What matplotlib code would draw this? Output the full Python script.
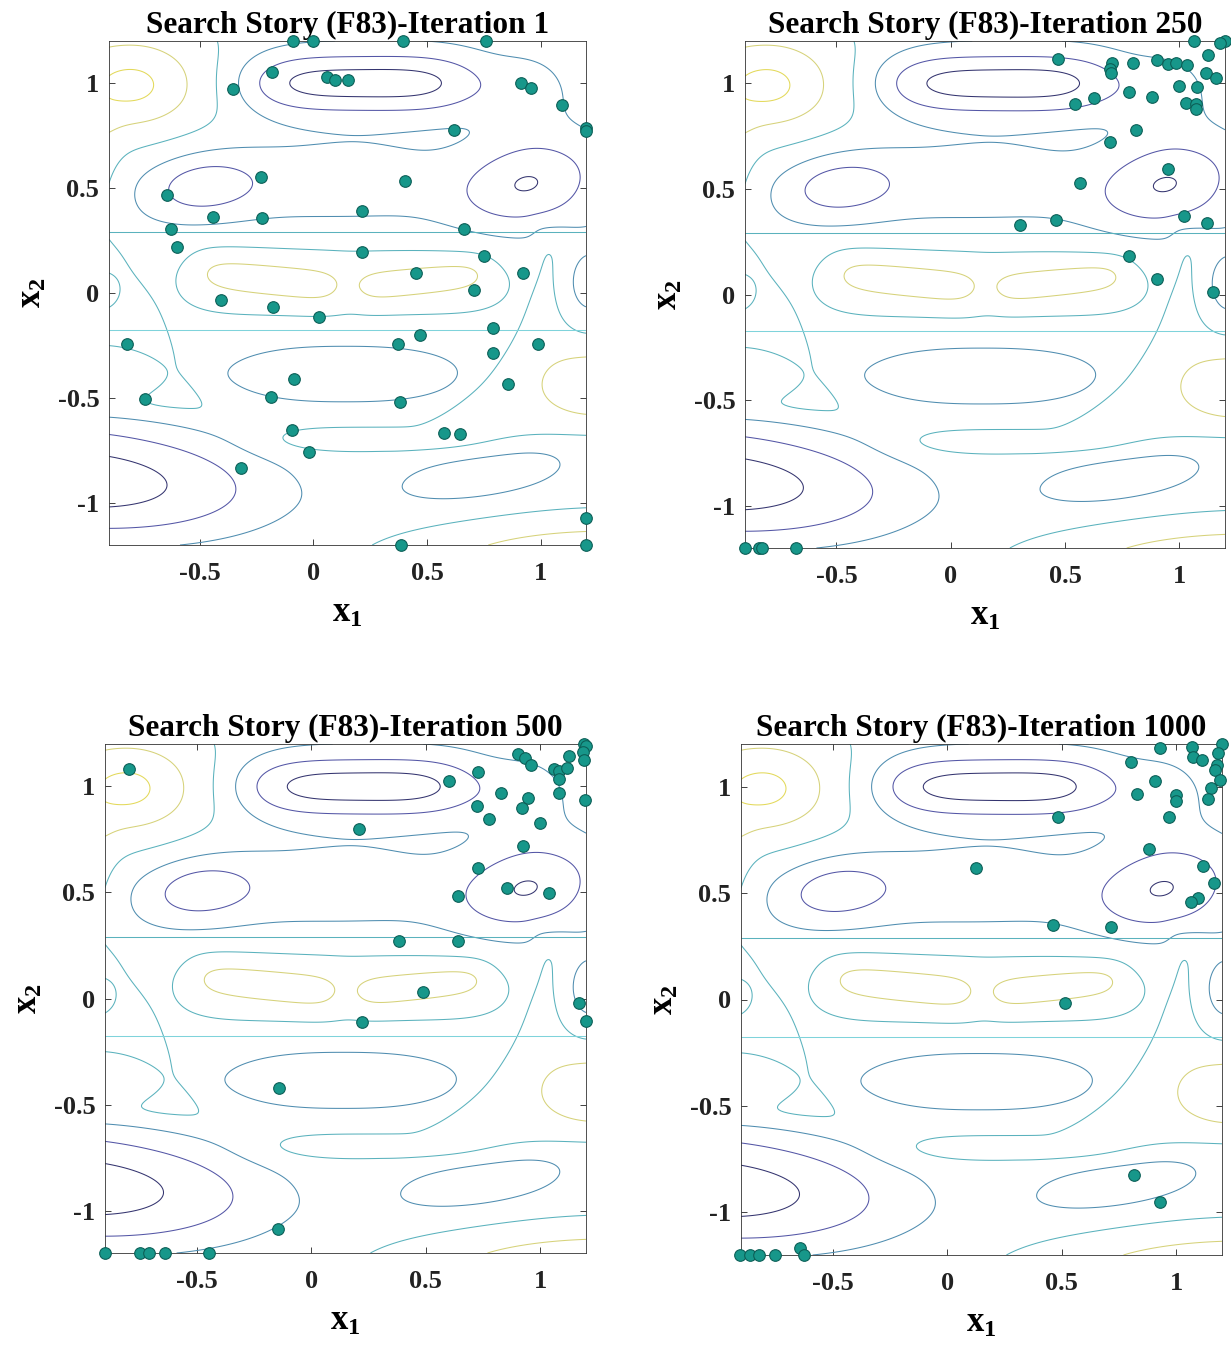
import numpy as np
import matplotlib
matplotlib.use("Agg")
import matplotlib.pyplot as plt

# ---- data: search agent positions (x1, x2) per iteration ----
iters = [1, 250, 500, 1000]

pts_it1_x1 = [-0.091, -0.003, 0.394, 0.760, -0.184, 0.059, 0.096, 0.154, -0.353, 0.915, 0.956, 1.096,
              0.621, 1.2, 1.2, -0.232, 0.404, -0.643, 0.213, -0.444, -0.228, -0.629, 0.665, -0.599,
              0.216, 0.750, 0.453, 0.924, 0.709, -0.407, -0.176, 0.024, 0.791, 0.471, -0.819, 0.371,
              0.988, 0.791, -0.085, 0.856, -0.740, -0.187, 0.379, -0.094, 0.576, 0.647, -0.021,
              -0.321, 1.2, 0.387, 1.2]
pts_it1_x2 = [1.2, 1.2, 1.2, 1.2, 1.052, 1.029, 1.013, 1.013, 0.971, 1.0, 0.976, 0.895,
              0.777, 0.787, 0.771, 0.552, 0.535, 0.468, 0.390, 0.363, 0.358, 0.306, 0.306, 0.221,
              0.197, 0.177, 0.097, 0.097, 0.016, -0.032, -0.068, -0.113, -0.166, -0.202, -0.242, -0.245,
              -0.245, -0.285, -0.408, -0.435, -0.503, -0.495, -0.521, -0.650, -0.669, -0.673, -0.758,
              -0.834, -1.073, -1.2, -1.2]

pts_it250_x1 = [1.066, 1.2, 1.18, 1.124, 0.469, 0.706, 0.695, 0.702, 0.797, 0.901, 0.949, 0.986,
                1.032, 1.117, 1.160, 0.779, 0.881, 1.0, 1.078, 0.629, 0.542, 1.030, 1.074, 1.071,
                0.811, 0.695, 0.949, 0.564, 1.022, 1.120, 0.459, 0.301, 0.779, 0.901, 1.149,
                -0.9, -0.837, -0.827, -0.677]
pts_it250_x2 = [1.2, 1.2, 1.19, 1.133, 1.117, 1.095, 1.067, 1.048, 1.098, 1.111, 1.090, 1.095,
                1.086, 1.048, 1.027, 0.959, 0.937, 0.987, 0.984, 0.932, 0.900, 0.905, 0.900, 0.876,
                0.781, 0.721, 0.594, 0.530, 0.371, 0.337, 0.352, 0.329, 0.183, 0.075, 0.011,
                -1.2, -1.2, -1.2, -1.2]

pts_it500_x1 = [1.192, 1.2, 1.185, 1.192, 0.901, 0.935, 0.959, 1.126, 1.061, 1.083, 1.119, 1.083,
                -0.795, 0.727, 0.600, 0.828, 0.945, 1.083, 1.196, 0.722, 0.920, 0.775, 0.999, 0.208,
                0.926, 0.727, 0.853, 0.640, 1.039, 0.385, 0.640, 0.487, 1.170, 0.222, 1.199,
                -0.141, -0.145, -0.901, -0.746, -0.708, -0.640, -0.446]
pts_it500_x2 = [1.2, 1.19, 1.163, 1.123, 1.155, 1.136, 1.099, 1.142, 1.083, 1.075, 1.088, 1.035,
                1.083, 1.067, 1.024, 0.967, 0.945, 0.967, 0.935, 0.908, 0.896, 0.845, 0.829, 0.797,
                0.717, 0.617, 0.519, 0.484, 0.499, 0.269, 0.269, 0.029, -0.022, -0.110, -0.105,
                -0.420, -1.085, -1.2, -1.2, -1.2, -1.2, -1.2]

pts_it1000_x1 = [0.931, 1.067, 1.2, 1.072, 1.111, 1.184, 1.180, 1.169, 1.191, 0.804, 0.907, 0.829,
                 0.999, 0.999, 1.150, 1.140, 0.483, 0.969, 0.882, 0.128, 1.118, 1.165, 1.096, 1.063,
                 0.461, 0.717, 0.515, 0.815, 0.931, -0.904, -0.860, -0.820, -0.750, -0.641, -0.626]
pts_it1000_x2 = [1.183, 1.187, 1.2, 1.140, 1.127, 1.156, 1.103, 1.076, 1.032, 1.114, 1.024, 0.965,
                 0.960, 0.933, 0.992, 0.940, 0.857, 0.857, 0.706, 0.616, 0.627, 0.548, 0.479, 0.456,
                 0.352, 0.341, -0.016, -0.825, -0.952, -1.2, -1.2, -1.2, -1.2, -1.167, -1.2]

# ---- landscape of F83 ----
# hills: (x1c, x2c, sx, sy, amp, shape_x, shape_y, radial_p, angle_deg)
hills = [
    (-0.80, 0.99, 0.20, 0.15, 3.0, 2, 2, 0.7, 0),     # top-left high
    (-0.95, 0.55, 0.07, 0.28, 0.7, 2, 2, 1, 0),       # left edge strip
    (0.21, 1.00, 0.45, 0.108, -3.0, 4, 2, 1, 0),      # top-middle valley
    (0.93, 0.96, 0.13, 0.12, -1.0, 2, 2, 1, 0),       # top-right small valley
    (0.94, 0.52, 0.23, 0.15, -2.55, 2, 2, 1, 15),     # right-middle valley
    (-0.11, 0.52, 0.60, 0.153, -1.0, 4, 2, 1, 0),     # middle broad valley
    (-0.49, 0.51, 0.17, 0.10, -1.4, 2, 2, 1, 8),      # middle-left valley
    (0.135, 0.057, 0.696, 0.14, 1.0, 6, 2, 1, 0),     # central band
    (-0.20, 0.065, 0.29, 0.07, 1.0, 6, 2, 1, -8),     # left lobe
    (0.48, 0.060, 0.265, 0.062, 1.0, 6, 2, 1, 8),     # right lobe
    (-0.95, 0.02, 0.09, 0.09, -1.0, 2, 2, 1, 0),      # left edge ring
    (1.22, 0.05, 0.10, 0.16, -2.0, 2, 2, 1, 0),       # right edge rings
    (0.14, -0.378, 0.44, 0.12, -1.0, 2.5, 2, 1, 0),   # ellipse below line
    (-0.95, -0.385, 0.22, 0.115, -1.0, 2, 2, 1, 0),   # lobe inside left region
    (1.24, -0.43, 0.18, 0.112, 1.3, 2, 2, 1, 0),      # right high
    (0.30, -0.695, 0.45, 0.055, 1.0, 4, 2, 1, 0),     # thin tongue
    (0.74, -0.87, 0.30, 0.095, -1.0, 2, 2, 1, 10),    # bottom-right valley
    (-1.04, -0.89, 0.65, 0.21, -2.8, 2, 2, 1.5, -4),  # bottom-left deep valley
    (1.30, -1.30, 0.80, 0.20, 2.0, 2, 2, 1.5, 0),     # bottom-right corner high
]
# left plateau bounded by x1 + slope*x2 < offset, bottom < x2 < top
left_plateau = (1.0, 0.516, -0.735, -0.57, 0.22)
# right plateau bounded by x1 > c0 + c1*(x2-pivot) + c2*(x2-pivot)^2, bottom < x2 < top
right_plateau = (1.0, (0.99, 0.14, -0.798), 0.07, -0.68, 0.30)

levels = [-2.5, -1.5, -0.5, 0.5, 1.5, 2.5]
level_colors = ['#34346f', '#5456a6', '#4f8db0', '#5ab2bd', '#d6d27a', '#e3d95a']
flat_lines = [-0.175, 0.29]          # straight contours across the domain
flat_colors = ['#7fd3db', '#5ab2bd']

x1_lim = (-0.9, 1.2)
x2_lim = (-1.2, 1.2)

# axes boxes in pixels (left, top, right, bottom)
boxes = [(109, 41, 586, 545), (745, 41, 1225, 548), (105, 744, 586, 1253), (741, 744, 1222, 1255)]


def soft(v, w=0.02):
    return 1.0 / (1.0 + np.exp(-v / w))


def landscape(X, Y):
    Z = np.zeros_like(X)
    for xc, yc, sx, sy, amp, qx, qy, rp, ang in hills:
        t = np.deg2rad(ang)
        dx = (X - xc) * np.cos(t) + (Y - yc) * np.sin(t)
        dy = -(X - xc) * np.sin(t) + (Y - yc) * np.cos(t)
        q = np.abs(dx / sx) ** qx + np.abs(dy / sy) ** qy
        Z += amp * np.exp(-0.5 * q ** rp)
    amp, slope, off, bot, top = left_plateau
    Z += amp * soft(off - (X + slope * Y)) * soft(Y - bot) * soft(top - Y, 0.04)
    amp, (c0, c1, c2), piv, bot, top = right_plateau
    arm = c0 + c1 * (Y - piv) + c2 * (Y - piv) ** 2
    Z += amp * soft(X - arm) * soft(Y - bot) * soft(top - Y, 0.03)
    return Z


plt.rcParams['font.family'] = ['Liberation Serif', 'DejaVu Serif']
plt.rcParams['font.weight'] = 'bold'
plt.rcParams['mathtext.fontset'] = 'custom'
plt.rcParams['mathtext.rm'] = 'Liberation Serif:bold'
plt.rcParams['mathtext.it'] = 'Liberation Serif:bold'
plt.rcParams['mathtext.bf'] = 'Liberation Serif:bold'

W, H = 1231, 1351
fig = plt.figure(figsize=(W / 100, H / 100), dpi=100)

g1 = np.linspace(x1_lim[0], x1_lim[1], 420)
g2 = np.linspace(x2_lim[0], x2_lim[1], 480)
G1, G2 = np.meshgrid(g1, g2)
Z = landscape(G1, G2)

all_pts = [(pts_it1_x1, pts_it1_x2), (pts_it250_x1, pts_it250_x2),
           (pts_it500_x1, pts_it500_x2), (pts_it1000_x1, pts_it1000_x2)]

for it, (px_, py_), (l, t, r, b) in zip(iters, all_pts, boxes):
    ax = fig.add_axes([l / W, 1 - b / H, (r - l) / W, (b - t) / H])
    ax.contour(G1, G2, Z, levels=levels, colors=level_colors, linewidths=0.75)
    ax.contour(G1, G2, G2, levels=flat_lines, colors=flat_colors, linewidths=0.75)
    ax.scatter(px_, py_, s=70, c='#17978a', edgecolors='#0c5f57', linewidths=0.8,
               zorder=5, clip_on=False)
    ax.set_xlim(*x1_lim)
    ax.set_ylim(*x2_lim)
    ax.set_xticks([-0.5, 0, 0.5, 1])
    ax.set_yticks([-1, -0.5, 0, 0.5, 1])
    ax.set_xticklabels(['-0.5', '0', '0.5', '1'])
    ax.set_yticklabels(['-1', '-0.5', '0', '0.5', '1'])
    ax.tick_params(direction='in', top=True, right=True, length=4, width=0.6,
                   labelsize=19, colors='#222222')
    ax.tick_params(axis='x', pad=12)
    ax.tick_params(axis='y', pad=7)
    for s in ax.spines.values():
        s.set_linewidth(0.6)
        s.set_color('#333333')
    ax.set_title(f'Search Story (F83)-Iteration {it}', fontsize=22.5, fontweight='bold', pad=6)
    ax.set_xlabel(r'$\mathrm{x_1}$', fontsize=25, labelpad=9)
    ax.set_ylabel(r'$\mathrm{x_2}$', fontsize=25, labelpad=6)

fig.savefig('out.png', dpi=100)
